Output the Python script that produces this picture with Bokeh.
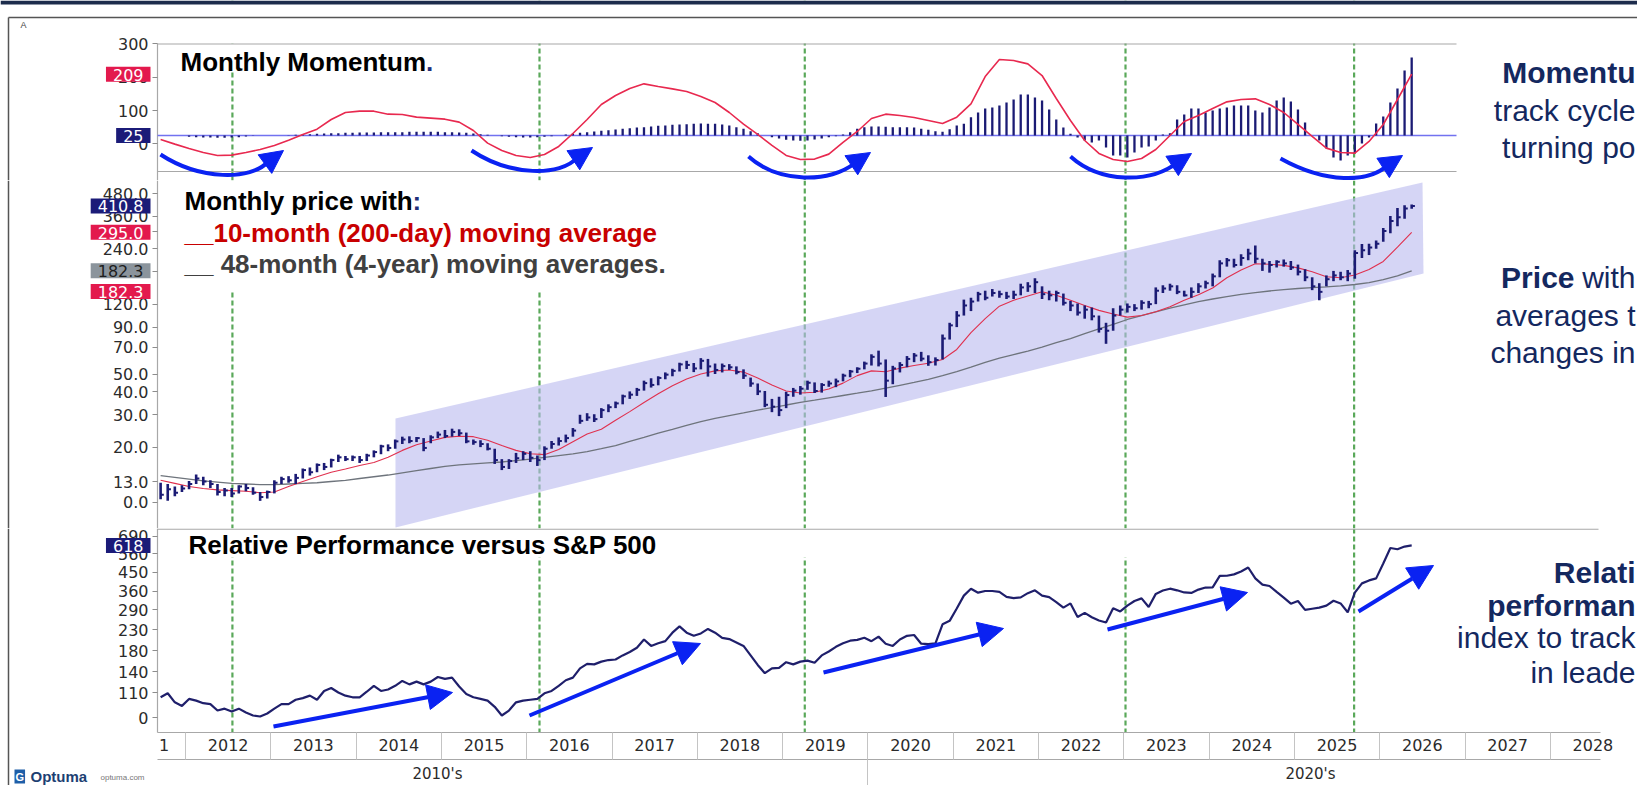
import numpy as np
import pandas as pd
from bokeh.plotting import figure
from bokeh.layouts import column
from bokeh.models import (Range1d, FixedTicker, Span, BoxAnnotation, PolyAnnotation, Label,
                          Arrow, NormalHead, ColumnDataSource, CustomJSTickFormatter, LinearAxis)
from bokeh.embed import file_html
from bokeh.resources import INLINE

# ------------------------------------------------------------------ data
first_month = "2011-09"

# monthly price bars (Sep 2011 .. May 2026)
price_close = [
    11.0, 11.8, 11.3, 11.9,
    12.6, 13.5, 13.0, 12.6, 11.4, 11.6, 11.2, 12.2, 12.0, 11.3, 10.7, 11.4,
    12.8, 13.4, 13.2, 13.6, 15.0, 14.6, 16.0, 15.6, 17.0, 17.6, 17.2, 17.6,
    17.0, 18.0, 18.8, 20.2, 19.8, 21.5, 22.0, 21.6, 22.4, 19.8, 22.6, 23.4,
    23.0, 24.2, 23.8, 21.5, 21.3, 20.8, 19.6, 17.0, 15.6, 16.8, 17.4, 18.4,
    17.5, 17.0, 19.6, 20.8, 21.6, 22.4, 24.6, 27.8, 29.0, 28.4, 31.8, 33.0,
    34.6, 37.8, 38.6, 41.0, 44.6, 43.6, 47.6, 49.6, 52.0, 56.4, 56.0, 53.6,
    59.0, 55.0, 52.6, 55.2, 54.4, 51.2, 49.0, 44.4, 40.2, 34.0, 33.2, 31.8,
    38.4, 40.6, 41.6, 44.8, 40.4, 43.6, 44.4, 45.6, 49.0, 51.6, 53.4, 57.0,
    62.0, 57.0, 46.0, 53.6, 56.0, 60.4, 63.0, 60.6, 58.0, 59.6, 78.0, 92.0,
    104, 118, 124, 136, 130, 138, 136, 132, 135, 148, 150, 158,
    136, 134, 138, 122, 118, 108, 112, 103, 88, 86, 104, 112,
    116, 114, 122, 120, 142, 146, 150, 140, 134, 140, 150, 156,
    170, 200, 208, 196, 214, 226, 212, 200, 196, 204, 200, 190,
    180, 168, 150, 140, 164, 172, 168, 176, 228, 236, 244, 256,
    300, 340, 356, 398, 410.8,
]
price_high = [
    12.8, 12.6, 12.2, 12.4,
    13.1, 14.2, 13.8, 13.2, 12.6, 12.0, 12.0, 12.4, 12.6, 12.1, 11.4, 11.6,
    13.2, 13.8, 13.9, 14.3, 15.3, 15.5, 16.3, 16.4, 17.3, 18.2, 17.9, 18.0,
    17.9, 18.4, 19.2, 20.6, 20.7, 22.0, 22.8, 22.9, 22.7, 22.4, 23.2, 24.3,
    24.8, 25.2, 25.0, 24.0, 22.0, 21.8, 21.0, 19.6, 17.2, 17.2, 18.6, 19.0,
    19.0, 18.0, 20.2, 21.6, 22.6, 23.4, 25.4, 30.0, 30.6, 30.2, 32.6, 34.2,
    35.4, 38.6, 40.2, 42.0, 46.0, 47.4, 48.6, 51.0, 53.4, 57.6, 59.0, 57.4,
    61.0, 60.4, 57.0, 57.0, 56.6, 55.0, 53.0, 47.8, 44.4, 40.4, 36.6, 37.6,
    40.0, 42.0, 43.0, 46.0, 45.0, 44.6, 46.0, 47.2, 50.2, 52.6, 54.4, 58.4,
    64.0, 67.0, 60.0, 55.4, 58.0, 62.6, 65.0, 66.0, 63.2, 61.6, 82.0, 95.0,
    110, 127, 130, 140, 142, 145, 142, 140, 142, 155, 158, 166,
    150, 142, 142, 137, 125, 121, 118, 115, 104, 95, 114, 118,
    121, 120, 126, 125, 148, 152, 155, 152, 142, 148, 156, 161,
    176, 208, 214, 212, 224, 240, 250, 212, 206, 208, 210, 206,
    197, 186, 168, 156, 172, 182, 180, 184, 236, 255, 256, 266,
    312, 362, 400, 414, 418,
]
price_low = [
    10.4, 10.2, 10.8, 11.4,
    11.8, 12.6, 12.4, 12.0, 10.9, 10.8, 10.7, 11.2, 11.5, 11.0, 10.2, 10.5,
    11.2, 12.6, 12.8, 12.6, 13.5, 14.0, 14.6, 15.0, 15.5, 16.6, 16.8, 16.8,
    16.4, 16.8, 17.6, 18.3, 19.0, 19.6, 20.8, 21.0, 21.3, 19.0, 21.0, 22.4,
    22.4, 22.8, 23.0, 21.0, 20.6, 20.0, 19.2, 16.2, 15.0, 15.2, 16.4, 17.0,
    16.6, 15.8, 17.0, 19.6, 20.4, 21.2, 22.8, 26.8, 27.8, 27.4, 28.8, 31.0,
    32.6, 34.2, 36.6, 38.0, 40.6, 42.2, 43.4, 46.8, 48.6, 51.6, 53.2, 51.2,
    53.0, 48.4, 50.0, 51.0, 52.6, 49.8, 47.0, 42.6, 38.4, 33.0, 31.0, 29.5,
    32.6, 37.6, 38.6, 41.0, 39.4, 39.6, 42.6, 42.4, 45.6, 48.0, 50.6, 53.0,
    55.6, 55.0, 37.5, 44.0, 51.0, 54.4, 58.0, 58.6, 55.4, 55.6, 60.0, 77.0,
    90, 104, 110, 124, 126, 132, 130, 128, 128, 134, 140, 138,
    128, 126, 124, 118, 110, 104, 100, 98, 84, 73, 86, 104,
    108, 110, 112, 114, 120, 138, 142, 136, 132, 130, 138, 146,
    150, 168, 192, 190, 194, 208, 200, 182, 178, 190, 192, 184,
    172, 160, 143, 126, 150, 160, 162, 160, 165, 214, 222, 240,
    262, 292, 318, 350, 396,
]

# relative performance versus S&P 500 (monthly)
relative_perf = [
    104, 109, 98, 94,
    102, 100, 97, 96, 89, 91, 88, 91, 87, 84, 83, 86,
    91, 96, 96, 101, 103, 106, 101, 112, 116, 110, 106, 104,
    104, 111, 119, 112, 114, 119, 126, 121, 125, 121, 125, 132,
    129, 131, 118, 108, 104, 102, 100, 93, 84, 89, 98, 100,
    101, 102, 109, 112, 119, 127, 131, 146, 154, 153, 158, 161,
    162, 170, 177, 186, 205, 190, 196, 201, 222, 239, 222, 214,
    220, 232, 222, 209, 206, 198, 190, 170, 152, 138, 146, 147,
    157, 153, 158, 160, 156, 170, 178, 188, 196, 202, 204, 209,
    201, 212, 195, 190, 205, 214, 216, 195, 194, 196, 245, 255,
    295, 343, 372, 355, 362, 362, 358, 338, 333, 336, 353, 365,
    343, 337, 318, 298, 313, 267, 280, 266, 256, 250, 296, 285,
    305, 322, 332, 300, 350, 364, 372, 365, 356, 354, 368, 377,
    378, 432, 433, 440, 455, 477, 420, 390, 384, 358, 335, 312,
    322, 290, 294, 298, 305, 323, 313, 282, 355, 396, 410, 420,
    500, 600, 591, 610, 618,
]

# monthly momentum histogram (drawn from the 25 level)
momentum_hist = [
    25, 25, 25, 25,
    21, 20, 19, 19, 18, 18, 19, 20, 22, 24, 25, 25,
    25, 25, 26, 27, 28, 29, 30, 31, 32, 32, 33, 33,
    34, 34, 34, 35, 35, 35, 35, 36, 36, 36, 36, 36,
    35, 35, 34, 33, 31, 29, 27, 25, 23, 21, 20, 19,
    19, 20, 21, 23, 25, 28, 31, 33, 35, 37, 39, 41,
    43, 45, 47, 49, 50, 52, 54, 55, 57, 58, 59, 60,
    61, 60, 60, 58, 55, 50, 45, 38, 32, 25, 20, 16,
    12, 10, 9, 10, 13, 16, 20, 23, 28, 35, 45, 50,
    52, 52, 51, 50, 50, 50, 49, 45, 42, 38, 36, 44,
    55, 60, 80, 94, 106, 109, 115, 124, 133, 148, 148, 139,
    130, 103, 73, 49, 30, 19, 10, 4, 10, -11, -35, -35,
    -41, -26, -11, -8, 10, 28, 32, 73, 88, 106, 106, 94,
    100, 106, 109, 115, 115, 115, 100, 94, 109, 130, 139, 127,
    103, 64, 25, 10, -14, -41, -50, -35, -29, 1, 19, 61,
    82, 124, 166, 220, 259,
]
momentum_base = 25

# smooth lines, read every second month
momentum_line = [
    13, -1, -14, -26, -35, -34, -26, -17, -5, 11,
    28, 44, 73, 94, 98, 98, 89, 88, 80, 77,
    74, 65, 40, 2, -20, -35, -41, -32, -8, 31,
    73, 118, 145, 166, 180, 172, 165, 157, 142, 124,
    94, 59, 28, -5, -35, -47, -46, -31, 4, 37,
    76, 89, 85, 79, 70, 61, 80, 120, 202, 253,
    250, 240, 205, 136, 70, 10, -29, -47, -53, -44,
    -17, 25, 67, 85, 106, 126, 133, 135, 118, 94,
    58, 22, -13, -26, -28, 7, 58, 133, 209,
]
ma10 = [
    13.2, 12.7, 12.2, 11.9, 11.7, 11.6, 11.5, 11.3, 11.4, 12.2,
    13.0, 13.8, 14.6, 15.2, 15.9, 16.5, 17.6, 19.2, 20.6, 21.6,
    22.6, 22.9, 22.8, 21.8, 20.4, 19.2, 18.4, 18.2, 19.4, 21.4,
    23.6, 25.0, 28.0, 31.2, 35.0, 39.0, 43.2, 47.0, 50.0, 52.0,
    52.6, 51.2, 47.6, 43.6, 40.4, 39.4, 39.8, 41.4, 44.6, 49.0,
    52.0, 51.4, 53.8, 55.6, 57.2, 60.0, 68.0, 84.0, 100.0, 117.0,
    126, 133, 140, 134, 126, 118, 111, 106, 102, 104,
    109, 116, 126, 135, 147, 167, 184, 199, 198, 195,
    189, 180, 169, 167, 173, 185, 205, 245, 295,
]
ma48 = [
    14.0, 13.7, 13.4, 13.1, 12.9, 12.7, 12.6, 12.5, 12.5, 12.6,
    12.7, 12.8, 13.0, 13.2, 13.5, 13.8, 14.1, 14.5, 14.9, 15.3,
    15.7, 16.0, 16.2, 16.4, 16.6, 16.9, 17.2, 17.6, 18.0, 18.4,
    18.9, 19.6, 20.4, 21.5, 22.6, 23.8, 25.0, 26.3, 27.5, 28.7,
    29.7, 30.7, 31.8, 32.8, 33.9, 35.0, 36.0, 37.1, 38.2, 39.3,
    40.5, 41.9, 43.4, 45.0, 46.8, 49.0, 51.5, 54.5, 57.8, 61.0,
    63.8, 66.6, 70.0, 74.0, 78.0, 83.0, 88.0, 93.0, 99.0, 104.0,
    109, 114, 119, 124, 128, 132, 135.5, 138.5, 141.5, 144,
    146, 147.5, 149, 151, 153.5, 157, 163, 171, 182.3,
]

cycle_lows = [2012.55, 2016.15, 2019.26, 2023.02, 2025.70]
year_cells = list(range(2012, 2029))
decade_labels = ["2010's", "2020's"]
momentum_ticks = [0, 100, 200, 300]
price_ticks = [10, 13, 20, 30, 40, 50, 70, 90, 120, 180, 240, 300, 360, 480]
relative_ticks = [82, 110, 140, 180, 230, 290, 360, 450, 560, 690]

# ------------------------------------------------------------------ layout helpers (page px -> data)
X_2012, PX_YEAR = 185.0, 85.3
def tx(px): return 2012 + (px - X_2012) / PX_YEAR
def mv(py): return (143.3 - py) / 0.333
def pv(py): return float(13.0 * np.exp((481.0 - py) / 79.8))
def rv(py): return float(110.0 * np.exp((692.0 - py) / 85.2))

per = pd.period_range(first_month, periods=len(price_close), freq="M")
t_month = np.asarray(per.year + (per.month - 0.5) / 12.0, dtype=float)
t_bi = t_month[::2]

W = 1637
NAVY_TXT = "#14285f"
RED_BADGE = "#e3194d"
NAVY_BADGE = "#1b1b78"
GRAY_BADGE = "#8b949c"
ARROW_BLUE = "#0a22f2"
GREEN = "#5aa85a"
BAR_NAVY = "#1b1b74"
FRAME_GRAY = "#a8a8a8"
AX_FONT = "DejaVu Sans"
TXT_FONT = "Liberation Sans"

xr = Range1d(tx(0), tx(W))
common = dict(width=W, x_range=xr, x_axis_type=None, output_backend="svg", toolbar_location=None,
              min_border_left=0, min_border_right=0, min_border_top=0, min_border_bottom=0,
              background_fill_color="white", border_fill_color="white")

f1 = figure(height=180, y_range=Range1d(mv(180), mv(0)), **common)
f2 = figure(height=348, y_range=Range1d(pv(528), pv(180)), y_axis_type="log", **common)
f3 = figure(height=257, y_range=Range1d(rv(785), rv(528)), y_axis_type="log", **common)

for f in (f1, f2, f3):
    f.outline_line_color = None
    f.grid.grid_line_color = None

def style_yaxis(ax, ticks, code=None):
    ax.fixed_location = tx(157)
    ax.ticker = FixedTicker(ticks=ticks)
    if code:
        ax.formatter = CustomJSTickFormatter(code=code)
    ax.axis_line_color = None
    ax.major_tick_line_color = "#8c8c8c"
    ax.major_tick_out = 5
    ax.major_tick_in = 0
    ax.minor_tick_out = 0
    ax.minor_tick_line_color = None
    ax.major_label_text_font = AX_FONT
    ax.major_label_text_font_size = "16px"
    ax.major_label_text_color = "#2b2b2b"
    ax.major_label_standoff = 4

style_yaxis(f1.yaxis[0], momentum_ticks)
style_yaxis(f2.yaxis[0], price_ticks, "return tick === 10 ? '0.0' : tick.toFixed(1);")
style_yaxis(f3.yaxis[0], relative_ticks, "return tick === 82 ? '0' : tick.toFixed(0);")

# bottom axes: years row + decades row (labels and cell separators on separate axes)
def bottom_axis(loc, ticker, formatter=None, sep_len=0, size="16px", standoff=6):
    ax = LinearAxis(fixed_location=loc, ticker=ticker)
    if formatter is not None:
        ax.formatter = formatter
    ax.axis_line_color = None
    ax.major_tick_out = 0
    ax.major_tick_in = 0
    ax.major_tick_line_color = None
    ax.minor_tick_out = sep_len
    ax.minor_tick_in = 0
    ax.minor_tick_line_color = "#c4c4c4" if sep_len else None
    ax.major_label_standoff = standoff
    ax.major_label_text_font = AX_FONT
    ax.major_label_text_font_size = size
    ax.major_label_text_color = "#2b2b2b"
    f3.add_layout(ax, "below")

bottom_axis(rv(732), FixedTicker(ticks=[], minor_ticks=year_cells), sep_len=27)
bottom_axis(rv(759), FixedTicker(ticks=[], minor_ticks=[2020]), sep_len=28)
bottom_axis(rv(732), FixedTicker(ticks=[tx(163.5)] + [y + 0.5 for y in year_cells]),
            CustomJSTickFormatter(code="return tick < 2012 ? '1' : String(Math.floor(tick));"),
            standoff=6)
bottom_axis(rv(759), FixedTicker(ticks=[tx(437), tx(1310)]),
            CustomJSTickFormatter(code="return tick < 2020 ? \"%s\" : \"%s\";" % tuple(decade_labels)),
            size="15px", standoff=5)

# cycle-low markers
for f in (f1, f2, f3):
    for t in cycle_lows:
        f.add_layout(Span(location=t, dimension="height", line_color=GREEN, line_dash="5 3",
                          line_width=2.2, level="underlay"))

# white boxes (slide text boxes / outside the panels)
def box(f, color="white", **kw):
    f.add_layout(BoxAnnotation(fill_color=color, fill_alpha=1, line_color=None,
                               level="underlay", **kw))

box(f1, bottom=mv(43))
box(f1, left=tx(170), right=tx(460), bottom=mv(70), top=mv(43))
box(f2, left=tx(170), right=tx(690), bottom=pv(290), top=pv(180))
box(f3, left=tx(170), right=tx(1140), bottom=rv(557), top=rv(528))
box(f3, top=rv(732))
box(f1, color="#1d2c4c", bottom=mv(4))   # slide header bar

# frame / axis lines (page px): (x0, y0, x1, y1)
def frame_lines(f, conv, segs, color=FRAME_GRAY, width=1.2):
    f.segment(x0=[tx(s[0]) for s in segs], y0=[conv(s[1]) for s in segs],
              x1=[tx(s[2]) for s in segs], y1=[conv(s[3]) for s in segs],
              line_color=color, line_width=width)

frame_lines(f1, mv, [(157, 43, 157, 180), (157, 43.5, 1456, 43.5), (157, 171, 1456, 171)])
frame_lines(f1, mv, [(8, 17, 8, 180), (8, 17, 1637, 17)], color="#555555", width=1.5)
frame_lines(f2, pv, [(157, 180, 157, 528)])
frame_lines(f2, pv, [(8, 180, 8, 528)], color="#555555", width=1.5)
frame_lines(f3, rv, [(157, 528.6, 1598, 528.6), (157, 528, 157, 732), (157, 732, 1600, 732),
                     (157, 759, 1600, 759)])
frame_lines(f3, rv, [(8, 528, 8, 787)], color="#555555", width=1.5)

# ---------------- momentum panel
f1.segment(x0=[tx(157)], y0=[momentum_base], x1=[tx(1456)], y1=[momentum_base],
           line_color="#7272f0", line_width=1.5)
f1.segment(x0=t_month, y0=momentum_base, x1=t_month, y1=momentum_hist, line_color=BAR_NAVY,
           line_width=2.3)
f1.line(t_bi, momentum_line, line_color="#e8294f", line_width=1.6)

# ---------------- price panel
band_px = [(395, 418), (1422, 182), (1423, 273), (395, 527)]
f2.add_layout(PolyAnnotation(xs=[tx(p[0]) for p in band_px], ys=[pv(p[1]) for p in band_px],
                             fill_color="#b9b9ef", fill_alpha=0.6, line_color=None, level="underlay"))
f2.line(t_bi, ma48, line_color="#6e747c", line_width=1.3)
f2.line(t_bi, ma10, line_color="#e0304e", line_width=1.1)
tick_len = 0.45 / 12
f2.segment(x0=t_month, y0=price_low, x1=t_month, y1=price_high, line_color=BAR_NAVY, line_width=2.6)
f2.segment(x0=t_month, y0=price_close, x1=t_month + tick_len, y1=price_close, line_color=BAR_NAVY,
           line_width=2)

# ---------------- relative panel
f3.line(t_month, relative_perf, line_color="#1f1f6b", line_width=2.2)

# ---------------- curved arrows (momentum) : start, c0, c1, end, tip  (page px)
arcs = [
    ((160, 154), (200, 180), (250, 180), (268, 161), (283, 150)),
    ((471, 150), (510, 176), (560, 176), (577, 157), (592, 147)),
    ((748, 156), (778, 183), (830, 183), (855, 162), (870, 152)),
    ((1070, 156), (1100, 183), (1150, 183), (1177, 162), (1191, 153)),
    ((1280, 158), (1325, 183), (1368, 183), (1388, 164), (1402, 155)),
]
arc_src = ColumnDataSource(dict(
    x0=[tx(a[0][0]) for a in arcs], y0=[mv(a[0][1]) for a in arcs],
    cx0=[tx(a[1][0]) for a in arcs], cy0=[mv(a[1][1]) for a in arcs],
    cx1=[tx(a[2][0]) for a in arcs], cy1=[mv(a[2][1]) for a in arcs],
    x1=[tx(a[3][0]) for a in arcs], y1=[mv(a[3][1]) for a in arcs]))
f1.bezier(x0="x0", y0="y0", x1="x1", y1="y1", cx0="cx0", cy0="cy0", cx1="cx1", cy1="cy1",
          source=arc_src, line_color=ARROW_BLUE, line_width=4)
for a in arcs:
    f1.add_layout(Arrow(end=NormalHead(size=23, fill_color=ARROW_BLUE, line_color=ARROW_BLUE),
                        x_start=tx(a[3][0]), y_start=mv(a[3][1]), x_end=tx(a[4][0]), y_end=mv(a[4][1]),
                        line_color=ARROW_BLUE, line_width=4))

# straight arrows (relative panel)
rel_arrows = [((273, 726), (452, 692)), ((529, 715), (700, 643)), ((823, 672), (1003, 628)),
              ((1107, 629), (1247, 592)), ((1358, 611), (1433, 565))]
for s, e in rel_arrows:
    f3.add_layout(Arrow(end=NormalHead(size=25, fill_color=ARROW_BLUE, line_color=ARROW_BLUE),
                        x_start=tx(s[0]), y_start=rv(s[1]), x_end=tx(e[0]), y_end=rv(e[1]),
                        line_color=ARROW_BLUE, line_width=4))

# ---------------- texts
def txt(f, px, y, text, size="26px", style="bold", color="black", font=TXT_FONT, align="left"):
    f.add_layout(Label(x=tx(px), y=y, text=text, text_font=font, text_font_size=size,
                       text_font_style=style, text_color=color, text_align=align,
                       text_baseline="middle"))

txt(f1, 180, mv(61), "Monthly Momentum")
txt(f1, 425.5, mv(61), ".", color="#1f2f7a")
txt(f2, 184, pv(200), "Monthly price with")
txt(f2, 412, pv(200), ":", color="#1f2f7a")
txt(f2, 184, pv(232), "__10-month (200-day) moving average", color="#c80000")
txt(f2, 184, pv(263), "__ 48-month (4-year) moving averages.", color="#404040")
txt(f3, 188, rv(544), "Relative Performance versus S&P 500")

RX = 1635  # right edge of the slide's side notes
def side(f, y, text, style="normal", px=RX):
    txt(f, px, y, text, size="30px", style=style, color=NAVY_TXT, align="right")

side(f1, mv(72), "Momentu", "bold")
side(f1, mv(110), "track cycle")
side(f1, mv(147), "turning po")
side(f2, pv(277), "with")
side(f2, pv(277), "Price", "bold", px=RX - 61)
side(f2, pv(315), "averages t")
side(f2, pv(352), "changes in")
side(f3, rv(572), "Relati", "bold")
side(f3, rv(605), "performan", "bold")
side(f3, rv(637), "index to track")
side(f3, rv(672), "in leade")

txt(f1, 20, mv(24), "A", size="9px", style="normal", color="#444444")

# value flags on the left axis
def badge(f, y, text, bg, fg="white"):
    f.add_layout(Label(x=tx(150), y=y, text=text, text_font=AX_FONT, text_font_size="16px",
                       text_color=fg, text_align="right", text_baseline="middle",
                       background_fill_color=bg,
                       padding=dict(left=7, right=7, top=2, bottom=1)))

badge(f1, 209, "209", RED_BADGE)
badge(f1, 25, "25", NAVY_BADGE)
badge(f2, 410.8, "410.8", NAVY_BADGE)
badge(f2, 295.0, "295.0", RED_BADGE)
badge(f2, 182.3, "182.3", GRAY_BADGE, fg="#1e1e1e")
badge(f2, pv(291), "182.3", RED_BADGE)
badge(f3, 618, "618", NAVY_BADGE)

# logo
f3.add_layout(Label(x=tx(14), y=rv(776), text="G", text_font=TXT_FONT, text_font_size="11px",
                    text_font_style="bold", text_color="white", background_fill_color="#1f5fa8",
                    text_baseline="middle", padding=1))
txt(f3, 30, rv(776), "Optuma", size="15px", color="#1d3f73")
txt(f3, 100, rv(777), "optuma.com", size="8px", style="normal", color="#777777")

layout = column(f1, f2, f3, spacing=0)
open("out.html", "w").write(file_html(layout, INLINE, title="Momentum, price and relative performance"))
